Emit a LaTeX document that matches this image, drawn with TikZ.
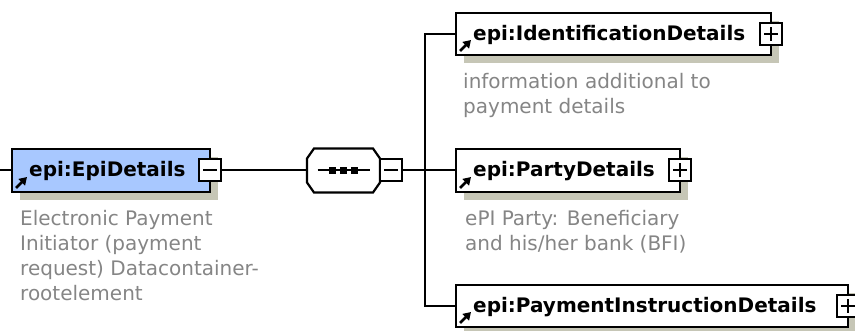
\documentclass[tikz,border=0pt]{standalone}
\usepackage{fontspec}
\setmainfont{DejaVu Sans}
\usetikzlibrary{shadows,arrows.meta}
\definecolor{epiblue}{HTML}{A8C8FF}
\definecolor{shadowc}{HTML}{C6C6B6}
\definecolor{descc}{HTML}{858585}
\begin{document}
\begin{tikzpicture}[x=1pt,y=-1pt,
  elem/.style={draw=black, line width=2.4pt, fill=white, rectangle, inner sep=0pt, outer sep=0pt, anchor=north west, minimum height=43pt,
     drop shadow={shadow xshift=8pt, shadow yshift=-8pt, fill=shadowc, opacity=1}},
  toggle/.style={draw=black, line width=2pt, fill=white, rectangle, inner sep=0pt, outer sep=0pt, minimum size=22pt},
  sign/.style={line width=2pt},
  title/.style={font=\fontsize{20}{25}\selectfont\bfseries, anchor=base west, inner sep=0pt},
  desc/.style={font=\fontsize{20}{25}\selectfont, text=descc, anchor=base west, inner sep=0pt, align=left},
  conn/.style={line width=2pt},
  refarrow/.style={line width=2.8pt, -{Triangle[length=7.5pt,width=9pt]}},
  seqbox/.style={rectangle, minimum width=73pt, minimum height=44pt, inner sep=0pt, outer sep=0pt}
]
\useasboundingbox (0,0) rectangle (855,331);

% root element
\node[elem, fill=epiblue, minimum width=198pt] (epi) at (12,149) {};
\node[title] (epiL) at (29,177) {epi:EpiDetails};
\node[toggle] (epiT) at (epi.east) {};
\draw[sign] ([xshift=-7pt]epiT.center) -- ([xshift=7pt]epiT.center);
\draw[refarrow] ([shift={(4,-4)}]epi.south west) -- ([shift={(15,-15)}]epi.south west);
\node[desc] (epiD) at (20,301) {Electronic Payment\\Initiator (payment\\request) Datacontainer-\\rootelement};

% sequence compositor (octagon drawn from the node's corners)
\node[seqbox] (seq) at (343.5,170.5) {};
\fill[shadowc, shift={(8,5)}]
  ([xshift=7pt]seq.north west) -- ([xshift=-7pt]seq.north east) -- ([yshift=-10pt]seq.north east)
  -- ([yshift=10pt]seq.south east) -- ([xshift=-7pt]seq.south east) -- ([xshift=7pt]seq.south west)
  -- ([yshift=10pt]seq.south west) -- ([yshift=-10pt]seq.north west) -- cycle;
\filldraw[fill=white, draw=black, line width=2.2pt, line join=miter]
  ([xshift=7pt]seq.north west) -- ([xshift=-7pt]seq.north east) -- ([yshift=-10pt]seq.north east)
  -- ([yshift=10pt]seq.south east) -- ([xshift=-7pt]seq.south east) -- ([xshift=7pt]seq.south west)
  -- ([yshift=10pt]seq.south west) -- ([yshift=-10pt]seq.north west) -- cycle;
\node[toggle, anchor=west] (seqT) at (seq.east) {};
\draw[sign] ([xshift=-7pt]seqT.center) -- ([xshift=7pt]seqT.center);
\draw[conn] ([xshift=-26pt]seq.center) -- ([xshift=26pt]seq.center);
\foreach \dx in {-11,0,11} \fill ([xshift=\dx pt]seq.center) ++(-3.3pt,-3.3pt) rectangle ++(6.6pt,6.6pt);

% children
\node[elem, minimum width=315pt, minimum height=42pt] (id) at (456,13) {};
\node[title] (idL) at (473,41) {epi:IdentificationDetails};
\node[toggle] (idT) at (id.east) {};
\draw[sign] ([xshift=-7pt]idT.center) -- ([xshift=7pt]idT.center);
\draw[sign] ([yshift=-7pt]idT.center) -- ([yshift=7pt]idT.center);
\draw[refarrow] ([shift={(4,-4)}]id.south west) -- ([shift={(15,-15)}]id.south west);
\node[desc] (idD) at (463,114) {information additional to\\payment details};

\node[elem, minimum width=224pt] (party) at (456,149) {};
\node[title] (partyL) at (473,177) {epi:PartyDetails};
\node[toggle] (partyT) at (party.east) {};
\draw[sign] ([xshift=-7pt]partyT.center) -- ([xshift=7pt]partyT.center);
\draw[sign] ([yshift=-7pt]partyT.center) -- ([yshift=7pt]partyT.center);
\draw[refarrow] ([shift={(4,-4)}]party.south west) -- ([shift={(15,-15)}]party.south west);
\node[desc] (partyD) at (465,251) {ePI Party: Beneficiary\\and his/her bank (BFI)};

\node[elem, minimum width=392pt, minimum height=42pt] (pay) at (456,285) {};
\node[title] (payL) at (473,313) {epi:PaymentInstructionDetails};
\node[toggle] (payT) at (pay.east) {};
\draw[sign] ([xshift=-7pt]payT.center) -- ([xshift=7pt]payT.center);
\draw[sign] ([yshift=-7pt]payT.center) -- ([yshift=7pt]payT.center);
\draw[refarrow] ([shift={(4,-4)}]pay.south west) -- ([shift={(15,-15)}]pay.south west);

% connectors
\coordinate (in) at (0,170.5);
\coordinate (j) at (425,170.5);
\draw[conn] (in) -- (epi.west);
\draw[conn] (epiT.east) -- (seq.west);
\draw[conn] (seqT.east) -- (j);
\draw[conn] (j) |- (id.west);
\draw[conn] (j) -- (party.west);
\draw[conn] (j) |- (pay.west);
\end{tikzpicture}
\end{document}
